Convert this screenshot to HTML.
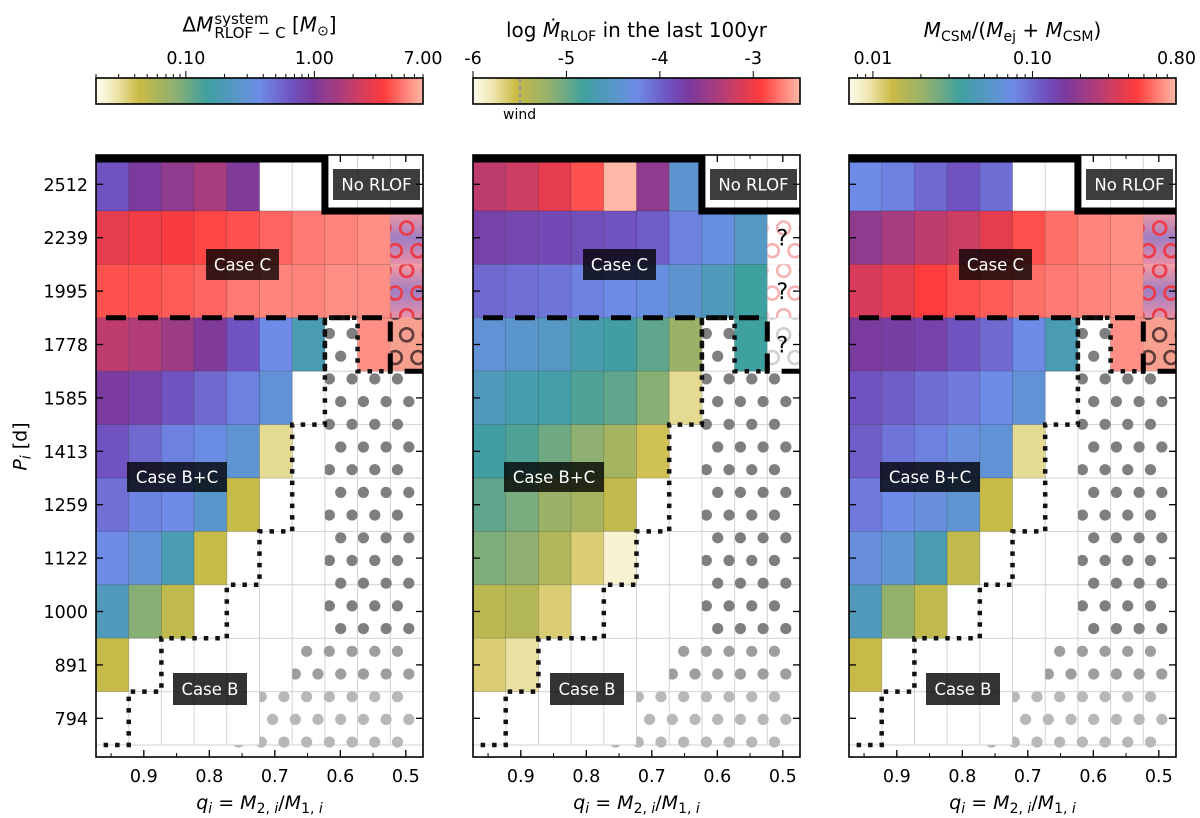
<!DOCTYPE html>
<html><head><meta charset="utf-8">
<style>
body{margin:0;background:#fff;}
#wrap{position:relative;width:1200px;height:818px;overflow:hidden;font-family:"DejaVu Sans","Liberation Sans",sans-serif;color:#000;}
.t{position:absolute;white-space:nowrap;}
.ttl{font-size:20px;text-align:center;}
.stk{display:inline-block;vertical-align:middle;line-height:14px;font-size:15px;text-align:left;margin-left:1px;}
sub{font-size:14px;vertical-align:-4px;}
</style></head>
<body>
<div id="wrap">
<svg id="svg" width="1200" height="818" viewBox="0 0 1200 818" xmlns="http://www.w3.org/2000/svg" style="position:absolute;left:0;top:0"></svg>
<div class="t ttl" style="left:96px;width:327px;top:12px">Δ<i>M</i><span class="stk"><span>system</span><br><span>RLOF − C</span></span> [<i>M</i><sub>⊙</sub>]</div>
<div class="t ttl" style="left:473px;width:327px;top:18px">log <i>Ṁ</i><sub>RLOF</sub> in the last 100yr</div>
<div class="t ttl" style="left:849px;width:327px;top:18px"><i>M</i><sub>CSM</sub>/(<i>M</i><sub>ej</sub> + <i>M</i><sub>CSM</sub>)</div>
<div class="t" style="left:503px;top:107px;font-size:14px">wind</div>
<div class="t" style="left:-10px;top:434px;font-size:19px;transform:rotate(-90deg);width:64px;text-align:center"><i>P</i><sub><i>i</i></sub> [d]</div>
</div>
<script>
// ---- data ----
const periodLabels = ['2512','2239','1995','1778','1585','1413','1259','1122','1000','891','794'];
const qTicks = [0.9,0.8,0.7,0.6,0.5];
const qMinorTicks = [0.95,0.85,0.75,0.65,0.55];
const deltaMValues = [
 [0.67,0.96,1.21,1.53,1.01],
 [2.74,3.08,3.27,3.67,3.9,4.38,4.92,5.22,5.53],
 [3.9,3.9,4.13,4.38,4.92,5.22,5.22,5.53,5.53],
 [1.93,1.72,1.36,1.01,0.67,0.37,0.185,null,5.53],
 [0.96,0.85,0.67,0.53,0.42,0.30],
 [0.67,0.53,0.42,0.35,0.28,0.032],
 [0.50,0.40,0.37,0.26,0.045],
 [0.37,0.30,0.185,0.045],
 [0.21,0.087,0.048],
 [0.045],
 []
];
const mdotValues = [
 [-3.27,-3.2,-3.06,-2.85,-2.5,-3.55,-4.43],
 [-3.76,-3.8,-3.83,-3.87,-3.9,-3.97,-4.18,-4.32,-4.53],
 [-4.04,-4.08,-4.11,-4.18,-4.25,-4.32,-4.43,-4.6,-4.81],
 [-4.39,-4.46,-4.53,-4.71,-4.78,-4.95,-5.23,null,-4.81],
 [-4.6,-4.71,-4.74,-4.88,-4.95,-5.13,-5.72],
 [-4.78,-4.88,-5.02,-5.16,-5.3,-5.58],
 [-4.95,-5.06,-5.23,-5.3,-5.48],
 [-5.09,-5.16,-5.37,-5.65,-5.9],
 [-5.44,-5.4,-5.65],
 [-5.65,-5.76],
 []
];
const csmFracValues = [
 [0.075,0.082,0.0995,0.12,0.095],
 [0.193,0.233,0.281,0.309,0.373,0.495,0.571,0.627,0.658],
 [0.34,0.373,0.451,0.495,0.519,0.571,0.598,0.627,0.658],
 [0.16,0.152,0.145,0.12,0.0995,0.075,0.0426,null,0.658],
 [0.12,0.109,0.095,0.0864,0.075,0.062],
 [0.109,0.0906,0.082,0.068,0.062,0.0103],
 [0.0864,0.075,0.068,0.0592,0.0137],
 [0.068,0.0592,0.0426,0.0144],
 [0.0468,0.021,0.0144],
 [0.0137],
 []
];
const cb1Labels = [0.1,1,7];
const cb2Labels = [-6,-5,-4,-3];
const cb3Labels = [0.01,0.1,0.8];

// ---- layout ----
const NS='http://www.w3.org/2000/svg';
const svg=document.getElementById('svg');
const panelLeft=[96,473,849];
const CW=32.7, RH=53.4, TOP=157.6, PT=155, PB=757, PW=327;
const FS=17.5;
const stops=[[0,'#fffdf0'],[0.06,'#efe6b0'],[0.13,'#cbbb45'],[0.24,'#8fb070'],[0.34,'#3fa0a0'],[0.44,'#5a96cc'],[0.5,'#6e8be8'],[0.6,'#7052c0'],[0.66,'#7a3a9e'],[0.76,'#b23d78'],[0.88,'#ff3c3c'],[1,'#ffb8a8']];
function hex(h){return [parseInt(h.substr(1,2),16),parseInt(h.substr(3,2),16),parseInt(h.substr(5,2),16)];}
function cmap(t){t=Math.max(0,Math.min(1,t));for(let i=1;i<stops.length;i++){if(t<=stops[i][0]){const a=stops[i-1],b=stops[i];const f=(t-a[0])/(b[0]-a[0]);const ca=hex(a[1]),cb=hex(b[1]);return 'rgb('+ca.map((c,k)=>Math.round(c+(cb[k]-c)*f)).join(',')+')';}}return stops[stops.length-1][1];}
const scale1=v=>(Math.log10(v)+1.699)/2.544;
const scale2=v=>(v+6)/3.5;
const scale3=v=>(Math.log10(v)+2.15)/2.05;
const colX=(p,c)=>panelLeft[p]+c*CW;
const rowY=r=>TOP+r*RH;
const qX=(p,q)=>panelLeft[p]+(0.973-q)*655;

function E(tag,parent){const e=document.createElementNS(NS,tag);(parent||svg).appendChild(e);return e;}
function A(e,o){for(const k in o)e.setAttribute(k,o[k]);return e;}

const defs=E('defs');
const lg=E('linearGradient',defs);A(lg,{id:'cmapgrad',x1:0,x2:1,y1:0,y2:0});
stops.forEach(s=>{const st=E('stop',lg);A(st,{offset:s[0],'stop-color':s[1]});});
const hg=E('linearGradient',defs);A(hg,{id:'hatchgrad',x1:0,x2:0,y1:0,y2:1});
[[0,'#f59aa0'],[0.5,'#a07fc4'],[1,'#e890a8']].forEach(s=>{const st=E('stop',hg);A(st,{offset:s[0],'stop-color':s[1]});});

function line(x1,y1,x2,y2,stroke,w,parent){const l=E('line',parent);A(l,{x1,y1,x2,y2,stroke,'stroke-width':w});return l;}
function text(x,y,s,size,anchor,parent){const t=E('text',parent);A(t,{x,y,'font-size':size,'text-anchor':anchor||'middle','font-family':'DejaVu Sans, Liberation Sans, sans-serif'});t.textContent=s;return t;}

const allValues=[deltaMValues,mdotValues,csmFracValues];
const scales=[scale1,scale2,scale3];
const panelNames=['delta-m-panel','mdot-panel','csm-fraction-panel'];

for(let p=0;p<3;p++){
  const L=panelLeft[p];
  const g=E('g');
  
  
  const cp=E('clipPath',defs);A(cp,{id:'pclip'+p});const cr=E('rect',cp);A(cr,{x:L,y:PT,width:PW,height:PB-PT});
  g.setAttribute('clip-path','url(#pclip'+p+')');
  const gl=E('g',g);
  
  
  for(let c=1;c<10;c++)line(colX(p,c),PT,colX(p,c),rowY(11),'#d2d2d2',1,gl);
  for(let r=1;r<=11;r++)line(L,rowY(r),L+PW,rowY(r),'#d2d2d2',1,gl);
  const dc=E('clipPath',defs);A(dc,{id:'dclip'+p});
  const poly=E('polygon',dc);
  const pts=[[7,3],[8,3],[8,4],[10,4],[10,11.3],[4,11.3],[4,11],[5,11],[5,10],[6,10],[6,9],[7,9]];
  A(poly,{points:pts.map(q=>colX(p,q[0])+','+rowY(q[1])).join(' ')});
  const dg=E('g',g);dg.setAttribute('clip-path','url(#dclip'+p+')');
  
  
  for(let j=-8;j<=14;j++){const y=447+22.7*j;for(let k=-12;k<4;k++){const x=L+(10.78+k-((j&1)?0.5:0))*22.7;
    const col=y<636?'#7f7f7f':(y<690?'#9e9e9e':(y<745?'#b8b8b8':'#cfcfcf'));
    const d=E('circle',dg);A(d,{cx:x,cy:y,r:5.6,fill:col});}}
  const vals=allValues[p];
  for(let r=0;r<vals.length;r++){for(let c=0;c<vals[r].length;c++){const v=vals[r][c];if(v===null)continue;
    const rc=E('rect',g);A(rc,{x:colX(p,c),y:rowY(r),width:CW,height:RH,fill:cmap(scales[p](v)),stroke:'rgba(0,0,0,0.16)','stroke-width':0.8});
    
    }}
  for(let r=1;r<=3;r++){
    const hc=E('clipPath',defs);A(hc,{id:'hc'+p+'_'+r});const hr=E('rect',hc);A(hr,{x:colX(p,9),y:rowY(r),width:CW,height:RH});
    const hgp=E('g',g);hgp.setAttribute('clip-path','url(#hc'+p+'_'+r+')');
    
    
    let fill='#fff',ring='#f4b4b4';
    if(p!==1){fill=r<3?'url(#hatchgrad)':'#f8a090';ring=r<3?'#ec3a46':'#5e3c3c';}
    else if(r===3){ring='#d0d0d0';}
    const bg=E('rect',hgp);A(bg,{x:colX(p,9),y:rowY(r),width:CW,height:RH,fill:fill});
    const ccx=colX(p,9)+CW/2;
    for(let j=-1;j<=3;j++){const y=rowY(r)+6+j*22.7+(r%2)*11;for(let k=-1;k<=1;k++){const x=ccx+k*22.7+((j&1)?11.35:0);
      const o=E('circle',hgp);A(o,{cx:x,cy:y,r:6.5,fill:'none',stroke:ring,'stroke-width':2.6});}}
    if(p===1){const q=text(colX(p,9)+15,rowY(r)+RH/2+8,'?',22,'middle',hgp);
      
      }
  }
  const solid=E('polyline',g);A(solid,{points:[[L,159],[colX(p,7),159],[colX(p,7),rowY(1)],[L+PW+5,rowY(1)]].map(a=>a.join(',')).join(' '),fill:'none',stroke:'#000','stroke-width':7});
  
  
  const dash=E('polyline',g);A(dash,{points:[[L+10,rowY(3)],[colX(p,9),rowY(3)],[colX(p,9),rowY(4)],[L+PW+5,rowY(4)]].map(a=>a.join(',')).join(' '),fill:'none',stroke:'#000','stroke-width':5,'stroke-dasharray':'20 12'});
  
  
  const st=[[7,4],[7,3],[8,3],[8,4],[9,4]];
  const box=E('polyline',g);A(box,{points:st.map(a=>colX(p,a[0])+','+rowY(a[1])).join(' '),fill:'none',stroke:'#111','stroke-width':4.5,'stroke-dasharray':'4.5 7'});
  
  
  const stair=[[7,3],[7,5],[6,5],[6,7],[5,7],[5,8],[4,8],[4,9],[2,9],[2,10],[1,10],[1,11],[0,11]];
  const sp=E('polyline',g);A(sp,{points:stair.map(a=>colX(p,a[0])+','+rowY(a[1])).join(' '),fill:'none',stroke:'#111','stroke-width':4.5,'stroke-dasharray':'4.5 7'});
  
  
  const labs=[['No RLOF',237,169,87,31,'rgba(40,40,40,0.9)'],['Case C',110,249,73,31,'rgba(0,0,0,0.78)'],['Case B+C',31,462,100,30,'rgba(0,0,0,0.78)'],['Case B',77,673,74,32,'rgba(0,0,0,0.8)']];
  labs.forEach(lb=>{const bx=E('rect',g);A(bx,{x:L+lb[1],y:lb[2],width:lb[3],height:lb[4],fill:lb[5]});
    
    
    const tx=text(L+lb[1]+lb[3]/2,lb[2]+lb[4]/2+6,lb[0],16.5,'middle',g);A(tx,{fill:'#fff'});
    
    });
  const fr=E('rect');A(fr,{x:L,y:PT,width:PW,height:PB-PT,fill:'none',stroke:'#000','stroke-width':1.6});
  
  
  for(let r=0;r<11;r++){const y=rowY(r)+RH/2;line(L,y,L+7,y,'#000',1.3);line(L+PW-7,y,L+PW,y,'#000',1.3);
    if(p===0){const t=text(88,y+6.5,periodLabels[r],FS,'end');
      
      }}
  qTicks.forEach(q=>{const x=qX(p,q);line(x,PB,x,PB-7,'#000',1.3);line(x,PT,x,PT+7,'#000',1.3);
    const t=text(x,782,q.toFixed(1),FS,'middle');
    
    });
  qMinorTicks.forEach(q=>{const x=qX(p,q);line(x,PB,x,PB-4,'#000',1);line(x,PT,x,PT+4,'#000',1);});
  const xl=E('text');A(xl,{x:L+PW/2,y:809,'font-size':19,'text-anchor':'middle','font-family':'DejaVu Sans, sans-serif'});
  xl.innerHTML='<tspan font-style="italic">q</tspan><tspan font-style="italic" font-size="14" dy="4">i</tspan><tspan dy="-4"> = </tspan><tspan font-style="italic">M</tspan><tspan font-size="14" dy="4">2, </tspan><tspan font-size="14" font-style="italic">i</tspan><tspan dy="-4">/</tspan><tspan font-style="italic">M</tspan><tspan font-size="14" dy="4">1, </tspan><tspan font-size="14" font-style="italic">i</tspan>';
  
  
}

const cbLeft=panelLeft, CBY=78, CBH=26;
const cbNames=['delta-m-colorbar','mdot-colorbar','csm-fraction-colorbar'];
for(let p=0;p<3;p++){
  const L=cbLeft[p];
  const b=E('rect');A(b,{x:L,y:CBY,width:PW,height:CBH,fill:'url(#cmapgrad)',stroke:'#000','stroke-width':1.6});
  
  
}
function cbx(p,t){return cbLeft[p]+t*PW;}
for(let e=-2;e<=0;e++)for(let m=1;m<10;m++){const v=m*Math.pow(10,e);const t=scale1(v);if(t<-0.001||t>1.001)continue;line(cbx(0,t),CBY,cbx(0,t),CBY-(m===1?7:4),'#000',1);}
cb1Labels.forEach(v=>{const t=text(cbx(0,scale1(v)),64,v.toFixed(2),FS,'middle');
  
  });
cb2Labels.forEach(v=>{const x=cbx(1,scale2(v));line(x,CBY,x,CBY-7,'#000',1);const t=text(x,64,String(v),FS,'middle');
  
  });
for(let e=-3;e<=0;e++)for(let m=1;m<10;m++){const v=m*Math.pow(10,e);const t=scale3(v);if(t<-0.001||t>1.001)continue;line(cbx(2,t),CBY,cbx(2,t),CBY-(m===1?7:4),'#000',1);}
cb3Labels.forEach(v=>{const t=text(cbx(2,scale3(v)),64,v.toFixed(2),FS,'middle');
  
  });
const wind=line(520,CBY+1,520,CBY+CBH-1,'#999',2.5);A(wind,{'stroke-dasharray':'4 3'});


</script>
</body></html>
